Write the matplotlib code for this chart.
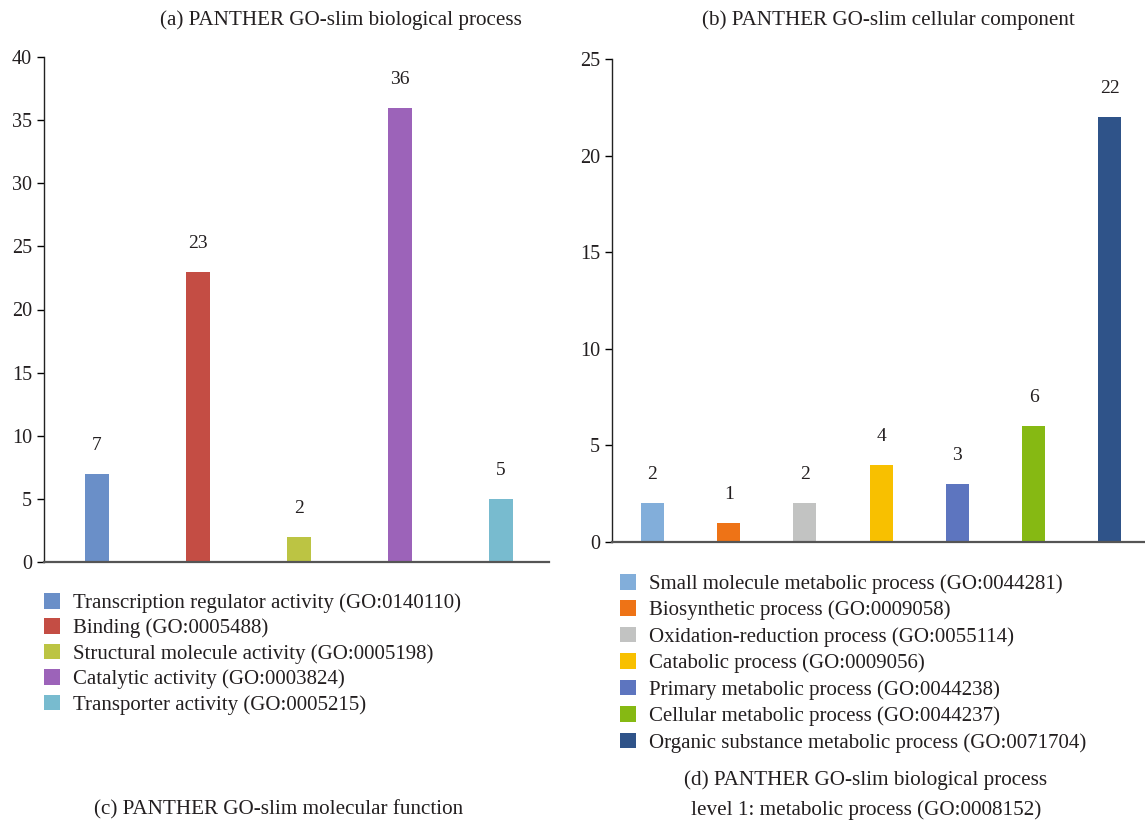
import matplotlib
matplotlib.use('Agg')
import matplotlib.pyplot as plt

# Panel (a)/(c): molecular function
mf_labels = ['Transcription regulator activity (GO:0140110)',
             'Binding (GO:0005488)',
             'Structural molecule activity (GO:0005198)',
             'Catalytic activity (GO:0003824)',
             'Transporter activity (GO:0005215)']
mf_values = [7, 23, 2, 36, 5]
mf_colors = ['#6A8FC8', '#C44D44', '#BCC443', '#9C63B9', '#78BBCF']

# Panel (b)/(d): metabolic process
mp_labels = ['Small molecule metabolic process (GO:0044281)',
             'Biosynthetic process (GO:0009058)',
             'Oxidation-reduction process (GO:0055114)',
             'Catabolic process (GO:0009056)',
             'Primary metabolic process (GO:0044238)',
             'Cellular metabolic process (GO:0044237)',
             'Organic substance metabolic process (GO:0071704)']
mp_values = [2, 1, 2, 4, 3, 6, 22]
mp_colors = ['#82AEDA', '#EE7316', '#C2C3C2', '#F8C000', '#5D75BF', '#86B913', '#2F5389']

plt.rcParams['font.family'] = ['Liberation Serif', 'DejaVu Serif']
TXT = '#231F20'
W, H = 1145, 824

fig = plt.figure(figsize=(W / 100, H / 100), dpi=100)


def style_axes(ax, ymax, step):
    ax.set_ylim(0, ymax)
    ax.set_yticks(range(0, ymax + 1, step))
    ax.set_xticks([])
    for s in ('top', 'right'):
        ax.spines[s].set_visible(False)
    ax.spines['left'].set_linewidth(1.0)
    ax.spines['left'].set_color('#222222')
    ax.spines['bottom'].set_linewidth(1.6)
    ax.spines['bottom'].set_color('#555555')
    ax.tick_params(axis='y', direction='out', length=5, width=1,
                   labelsize=14.5, labelcolor=TXT, pad=3.5)


def add_labels(ax, bars, values):
    for b, v in zip(bars, values):
        ax.annotate(str(v), (b.get_x() + b.get_width() / 2, v),
                    xytext=(0, 20.5), textcoords='offset points',
                    ha='center', va='center', fontsize=14, color=TXT)


# left chart
ax1 = fig.add_axes([44 / W, 1 - 562 / H, (549 - 44) / W, (562 - 57) / H])
bars1 = ax1.bar(range(len(mf_values)), mf_values, width=0.23, color=mf_colors)
ax1.set_xlim(-0.525, len(mf_values) - 1 + 0.475)
style_axes(ax1, 40, 5)
add_labels(ax1, bars1, mf_values)

# right chart
ax2 = fig.add_axes([612 / W, 1 - 542 / H, (W - 612) / W, (542 - 59) / H])
bars2 = ax2.bar(range(len(mp_values)), mp_values, width=0.3, color=mp_colors)
ax2.set_xlim(-0.53, len(mp_values) - 1 + 0.46)
style_axes(ax2, 25, 5)
add_labels(ax2, bars2, mp_values)

# titles
title_kw = dict(ha='center', va='center', fontsize=15.2, color=TXT)
fig.text(341 / W, 1 - 20 / H, '(a) PANTHER GO-slim biological process', **title_kw)
fig.text(888 / W, 1 - 20 / H, '(b) PANTHER GO-slim cellular component', **title_kw)
fig.text(279 / W, 1 - 810 / H, '(c) PANTHER GO-slim molecular function', **title_kw)
fig.text(866 / W, 1 - 780 / H, '(d) PANTHER GO-slim biological process', **title_kw)
fig.text(866 / W, 1 - 810 / H, 'level 1: metabolic process (GO:0008152)', **title_kw)

# legends
leg_kw = dict(loc='upper left', frameon=False, fontsize=15, borderpad=0,
              borderaxespad=0, handlelength=0.77, handleheight=0.77,
              handletextpad=0.62, labelcolor=TXT)
fig.legend(bars1.patches, mf_labels, bbox_to_anchor=(44 / W, 1 - 593 / H),
           labelspacing=0.26, **leg_kw)
fig.legend(bars2.patches, mp_labels, bbox_to_anchor=(620 / W, 1 - 574 / H),
           labelspacing=0.31, **leg_kw)

fig.savefig('out.png', dpi=100)
